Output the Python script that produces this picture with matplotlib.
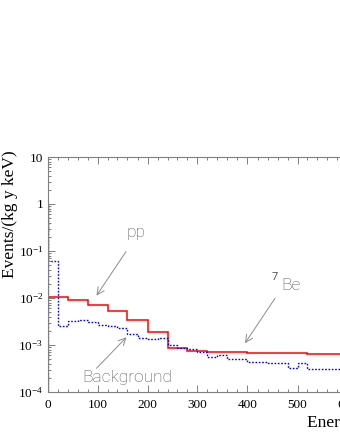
import numpy as np
import matplotlib
matplotlib.use('Agg')
import matplotlib.pyplot as plt
from matplotlib.ticker import LogLocator, MultipleLocator, FuncFormatter, NullFormatter

# values (events / (kg y keV))
start_level = 1.0                       # both histograms start from 1 at E=0
pp_edges = np.arange(0, 641, 40)        # keV
pp_rate = [0.0105, 0.0091, 0.0071, 0.0052, 0.0034, 0.0019, 0.00087, 0.00074,
           0.00071, 0.00071, 0.00068, 0.00068, 0.00068, 0.00065, 0.00064, 0.00063]

bkg_edges = np.arange(0, 601, 20)       # keV
bkg_rate = [0.06, 0.0025, 0.0033, 0.0034, 0.0031, 0.0027, 0.0025, 0.0023, 0.0017, 0.0014,
            0.00134, 0.0014, 0.0010, 0.00085, 0.00082, 0.00072, 0.00056, 0.00062, 0.0005, 0.0005,
            0.00044, 0.00044, 0.00041, 0.00041, 0.00032, 0.00042, 0.00031, 0.00031, 0.00031, 0.00031]

xticks = [0, 100, 200, 300, 400, 500, 600, 700]

plt.rcParams['font.family'] = ['Liberation Serif', 'DejaVu Serif']
plt.rcParams['mathtext.fontset'] = 'custom'
plt.rcParams['mathtext.rm'] = 'Liberation Serif'
plt.rcParams['mathtext.it'] = 'Liberation Serif:italic'
plt.rcParams['mathtext.bf'] = 'Liberation Serif:bold'

W, H = 340, 440
fig = plt.figure(figsize=(W / 100, H / 100), dpi=100)
# axes runs off the right edge of the picture, like the cropped original
ax = fig.add_axes([47.5 / W, 48 / H, 350 / W, 235 / H])

gray = '#7f7f7f'

ax.stairs([start_level] + pp_rate, np.concatenate([[0], pp_edges]),
          color='red', lw=1.1)
ax.stairs([start_level] + bkg_rate, np.concatenate([[0], bkg_edges]),
          color='blue', lw=1.0, linestyle=(0, (1.2, 1.2)))

ax.set_yscale('log')
ax.set_ylim(1e-4, 10)
ax.set_xlim(0, 700)

# ticks, ROOT style (inside, on top too)
ax.xaxis.set_major_locator(MultipleLocator(100))
ax.xaxis.set_minor_locator(MultipleLocator(20))
ax.yaxis.set_major_locator(LogLocator(base=10, numticks=10))
ax.yaxis.set_minor_locator(LogLocator(base=10, subs=np.arange(2, 10), numticks=20))
ax.yaxis.set_minor_formatter(NullFormatter())


def ylab(v, pos):
    e = int(round(np.log10(v)))
    if e == 1:
        return '10'
    if e == 0:
        return '1'
    return '$10^{%d}$' % e


ax.yaxis.set_major_formatter(FuncFormatter(ylab))
ax.tick_params(which='both', direction='in', top=True, right=True, color=gray, width=0.7)
ax.tick_params(which='major', length=5, labelsize=9.5)
ax.tick_params(which='minor', length=2.5)
ax.tick_params(axis='x', which='major', pad=5)
ax.tick_params(axis='y', which='major', pad=3)
for s in ax.spines.values():
    s.set_color(gray)
    s.set_linewidth(0.8)

# labels
fig.text(1.5 / W, (H - 214) / H, 'Events/(kg y keV)', rotation=90,
         ha='left', va='center', fontsize=12.5)
fig.text(307 / W, (H - 427) / H, 'Energy (keV)', ha='left', va='baseline', fontsize=12.5)

# annotations
txt = dict(color='#555555', fontsize=12.5, family=['Roboto', 'DejaVu Sans'], fontweight='light')
arr = dict(arrowstyle='->', color='#8c8c8c', lw=0.7, mutation_scale=13, shrinkA=0, shrinkB=0)

ax.text(178, 0.2, 'pp', ha='center', va='baseline', **txt)
ax.annotate('', xy=(98, 0.0112), xytext=(157, 0.097), arrowprops=arr)

ax.text(70, 1.66e-4, 'Background', ha='left', va='baseline', **txt)
ax.annotate('', xy=(158, 0.00146), xytext=(98, 3.2e-4), arrowprops=arr)

ax.text(468, 0.0148, 'Be', ha='left', va='baseline', **txt)
ax.text(448, 0.0242, '7', ha='left', va='baseline', color='#555555', fontsize=8,
        family=['Roboto', 'DejaVu Sans'])
ax.annotate('', xy=(395, 0.00109), xytext=(455, 0.00986), arrowprops=arr)

fig.savefig('out.png', dpi=100)
